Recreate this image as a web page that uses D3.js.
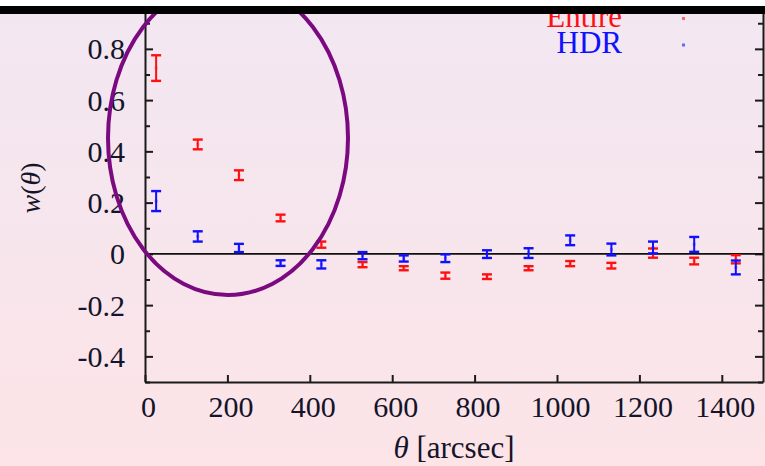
<!DOCTYPE html>
<html>
<head>
<meta charset="utf-8">
<script src="https://cdn.jsdelivr.net/npm/d3@7"></script>
<style>
  html, body { margin: 0; padding: 0; background: #fff; }
  svg { display: block; }
  .axis text { font-family: "Liberation Serif", "Times New Roman", serif; font-size: 30px; fill: #14142a; }
  .axis line, .axis path { stroke: #1a1a1a; stroke-width: 2; }
</style>
</head>
<body>
<div id="chart"><svg></svg></div>
<script>
// angular bins (arcsec)
const theta = [27, 128, 228, 329, 428, 528, 628, 729, 830, 931, 1032, 1132, 1233, 1333, 1434];
// Entire sample w(theta) and errors
const entire = [0.725, 0.427, 0.307, 0.140, 0.036, -0.042, -0.056, -0.085, -0.089, -0.056, -0.038, -0.046, 0.003, -0.028, -0.021];
const entireErr = [0.050, 0.019, 0.019, 0.013, 0.012, 0.010, 0.008, 0.012, 0.009, 0.008, 0.010, 0.011, 0.018, 0.013, 0.016];
// HDR sample
const hdr = [0.206, 0.068, 0.023, -0.036, -0.041, -0.007, -0.018, -0.017, -0.001, 0.003, 0.053, 0.017, 0.025, 0.037, -0.053];
const hdrErr = [0.039, 0.020, 0.016, 0.011, 0.016, 0.014, 0.012, 0.015, 0.015, 0.019, 0.019, 0.023, 0.023, 0.029, 0.027];
// ticks
const xTicks = [0, 200, 400, 600, 800, 1000, 1200, 1400];
const yTicks = [-0.4, -0.2, 0, 0.2, 0.4, 0.6, 0.8];
const yMinorTicks = [-0.5, -0.3, -0.1, 0.1, 0.3, 0.5, 0.7, 0.9];
const seriesNames = ['Entire', 'HDR'];
const seriesColors = ['#ff1010', '#1010ff'];

const width = 765, height = 466;
const svg = d3.select('#chart').select('svg').attr('width', width).attr('height', height);

// page background (pinkish scan tint)
const grad = svg.append('defs').append('linearGradient')
  .attr('id', 'bg').attr('x1', 0).attr('y1', 0).attr('x2', 0).attr('y2', 1);
grad.append('stop').attr('offset', '0%').attr('stop-color', '#f2e7f2');
grad.append('stop').attr('offset', '100%').attr('stop-color', '#fce4e7');
svg.append('rect').attr('width', width).attr('height', height).attr('fill', 'url(#bg)');

const xScale = d3.scaleLinear().domain([0, 1500]).range([145, 763]);
const yScale = d3.scaleLinear().domain([-0.5, 1.0]).range([382, -2.4]);
const fmt = d => (d === 0 ? '0' : d3.format('.1f')(d)).replace('−', '-');

// left axis (ticks inward)
svg.append('g').attr('class', 'axis')
  .attr('transform', `translate(${xScale(0)},0)`)
  .call(d3.axisLeft(yScale).tickValues(yTicks).tickSize(-8).tickSizeOuter(0).tickPadding(20).tickFormat(fmt))
  .call(g => g.selectAll('text').attr('dy', '0.33em'));
svg.append('g').attr('class', 'axis')
  .attr('transform', `translate(${xScale(0)},0)`)
  .call(d3.axisLeft(yScale).tickValues(yMinorTicks).tickSize(-5).tickFormat(''))
  .call(g => g.select('.domain').remove());

// right mirrored axis
svg.append('g').attr('class', 'axis')
  .attr('transform', `translate(${xScale(1500)},0)`)
  .call(d3.axisRight(yScale).tickValues(yTicks).tickSize(-8).tickSizeOuter(0).tickFormat(''));
svg.append('g').attr('class', 'axis')
  .attr('transform', `translate(${xScale(1500)},0)`)
  .call(d3.axisRight(yScale).tickValues(yMinorTicks).tickSize(-5).tickFormat(''))
  .call(g => g.select('.domain').remove());

// bottom axis
svg.append('g').attr('class', 'axis')
  .attr('transform', `translate(0,${yScale(-0.5)})`)
  .call(d3.axisBottom(xScale).tickValues(xTicks).tickSize(-7).tickSizeOuter(0).tickPadding(14).tickFormat(d3.format('d')))
  .call(g => g.selectAll('text').attr('dx', 3).attr('dy', '0.71em'));

// zero line
svg.append('line')
  .attr('x1', xScale(0)).attr('x2', xScale(1500))
  .attr('y1', yScale(0)).attr('y2', yScale(0))
  .attr('stroke', '#111').attr('stroke-width', 1.6);

// error bars
function drawSeries(vals, errs, color) {
  const data = theta.map((t, i) => ({ t, v: vals[i], e: errs[i] }));
  const g = svg.append('g').attr('stroke', color).attr('fill', 'none');
  const cap = 5;
  const bars = g.selectAll('g').data(data).enter().append('g');
  bars.append('line')
    .attr('x1', d => xScale(d.t)).attr('x2', d => xScale(d.t))
    .attr('y1', d => yScale(d.v - d.e)).attr('y2', d => yScale(d.v + d.e))
    .attr('stroke-width', 2);
  bars.append('line')
    .attr('x1', d => xScale(d.t) - cap).attr('x2', d => xScale(d.t) + cap)
    .attr('y1', d => yScale(d.v + d.e)).attr('y2', d => yScale(d.v + d.e))
    .attr('stroke-width', 2.4);
  bars.append('line')
    .attr('x1', d => xScale(d.t) - cap).attr('x2', d => xScale(d.t) + cap)
    .attr('y1', d => yScale(d.v - d.e)).attr('y2', d => yScale(d.v - d.e))
    .attr('stroke-width', 2.4);
  bars.append('rect')
    .attr('x', d => xScale(d.t) - 1.5).attr('y', d => yScale(d.v) - 1.5)
    .attr('width', 3).attr('height', 3)
    .attr('stroke', 'none').attr('fill', color).attr('opacity', 0.35);
}
drawSeries(entire, entireErr, seriesColors[0]);
drawSeries(hdr, hdrErr, seriesColors[1]);

// legend
const legend = svg.append('g');
seriesNames.forEach((name, i) => {
  const y = 26.5 + i * 26.5;
  legend.append('text')
    .attr('x', 622).attr('y', y)
    .attr('text-anchor', 'end')
    .style('font-family', '"Liberation Serif", serif').style('font-size', '31px')
    .attr('fill', seriesColors[i]).text(name);
  legend.append('rect')
    .attr('x', 682).attr('y', y - 9.5).attr('width', 3).attr('height', 3)
    .attr('fill', seriesColors[i]).attr('opacity', 0.6);
});

// axis titles
const ylab = svg.append('text')
  .attr('transform', 'translate(40,188) rotate(-90)')
  .attr('text-anchor', 'middle')
  .style('font-family', '"Liberation Serif", serif').style('font-size', '28px')
  .attr('fill', '#14142a');
ylab.append('tspan').style('font-style', 'italic').text('w');
ylab.append('tspan').text('(');
ylab.append('tspan').style('font-style', 'italic').text('θ');
ylab.append('tspan').text(')');

const xlab = svg.append('text')
  .attr('x', 454).attr('y', 458)
  .attr('text-anchor', 'middle')
  .style('font-family', '"Liberation Serif", serif').style('font-size', '31px')
  .attr('fill', '#14142a');
xlab.append('tspan').style('font-style', 'italic').text('θ');
xlab.append('tspan').text(' [arcsec]');

// purple annotation ellipse
svg.append('ellipse')
  .attr('cx', 228).attr('cy', 138).attr('rx', 120).attr('ry', 157)
  .attr('fill', 'none').attr('stroke', '#7b0a80').attr('stroke-width', 4);

// cropped top edge
svg.append('rect').attr('x', 0).attr('y', 0).attr('width', width).attr('height', 6).attr('fill', '#fff');
svg.append('rect').attr('x', 0).attr('y', 6).attr('width', width).attr('height', 8).attr('fill', '#000');
</script>
</body>
</html>
